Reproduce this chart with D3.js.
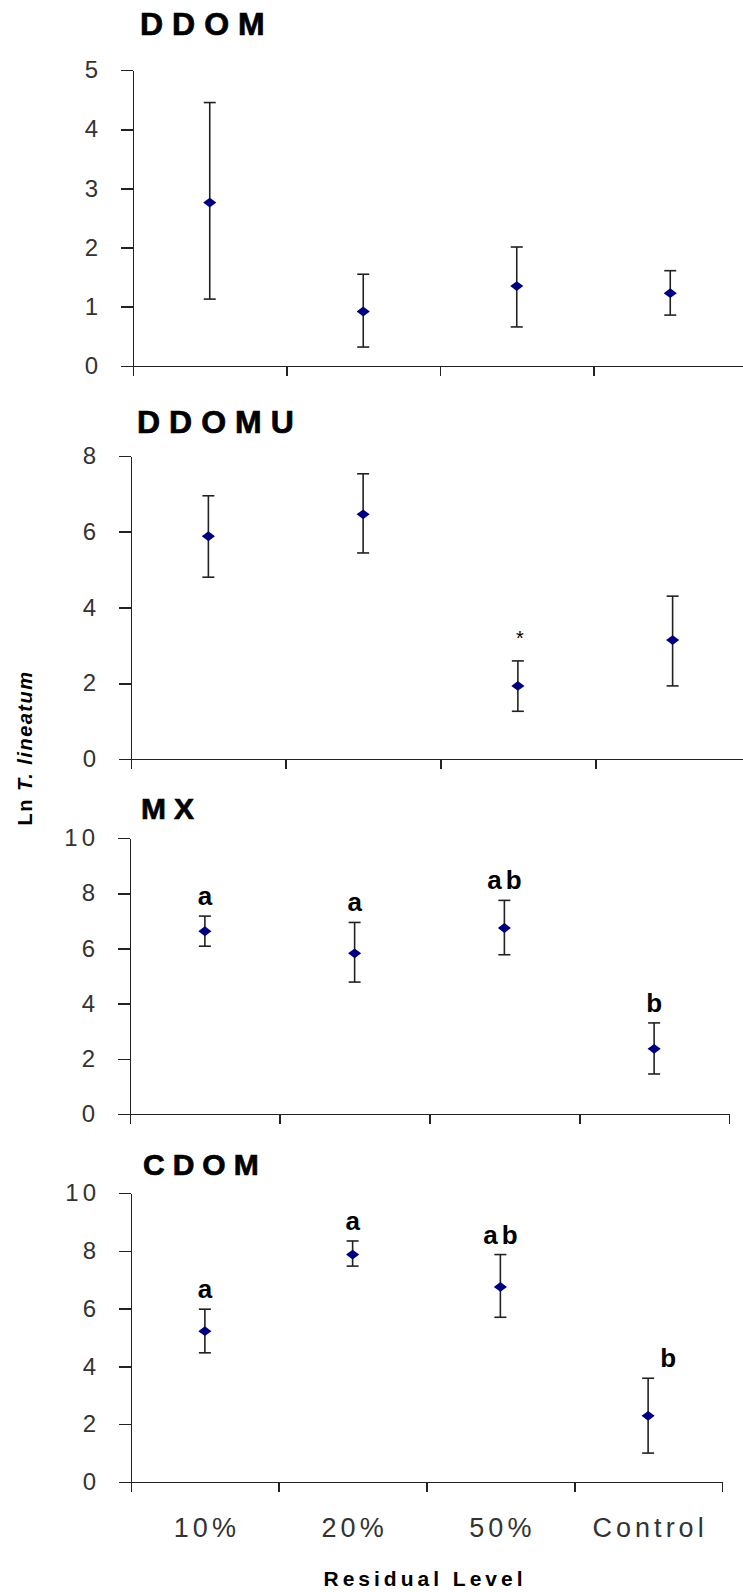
<!DOCTYPE html>
<html>
<head>
<meta charset="utf-8">
<script src="https://cdn.jsdelivr.net/npm/d3@7"></script>
<style>
  body { margin: 0; background: #fff; }
  svg { display: block; background: #fff; }
  .axis path, .axis line { stroke: #222; stroke-width: 1.6; shape-rendering: crispEdges; }
  .axis text { font-family: "Liberation Sans", Arial, sans-serif; font-size: 24px; fill: #333; letter-spacing: 4px; }
  .ptitle { font-family: "Liberation Sans", Arial, sans-serif; font-weight: bold; fill: #000; stroke: #000; stroke-width: 0.7px; }
  .letter { font-family: "Liberation Sans", Arial, sans-serif; font-weight: bold; font-size: 26px; letter-spacing: 4px; fill: #000; }
</style>
</head>
<body>
<svg id="chart" width="743" height="1592"></svg>
<script>
// categories on the x axis
var categories = ["10%", "20%", "50%", "Control"];
var panelTitles = ["DDOM", "DDOMU", "MX", "CDOM"];

// DDOM
var ddomMean = [2.76, 0.92, 1.35, 1.23];
var ddomLow  = [1.13, 0.32, 0.66, 0.86];
var ddomHigh = [4.45, 1.55, 2.01, 1.61];
var ddomTicks = [0, 1, 2, 3, 4, 5];

// DDOMU
var ddomuMean = [5.88, 6.46, 1.93, 3.14];
var ddomuLow  = [4.80, 5.44, 1.26, 1.93];
var ddomuHigh = [6.95, 7.53, 2.59, 4.30];
var ddomuMarks = ["", "", "*", ""];
var ddomuTicks = [0, 2, 4, 6, 8];

// MX
var mxMean = [6.62, 5.82, 6.74, 2.36];
var mxLow  = [6.08, 4.78, 5.77, 1.45];
var mxHigh = [7.17, 6.94, 7.74, 3.30];
var mxLetters = ["a", "a", "ab", "b"];
var mxTicks = [0, 2, 4, 6, 8, 10];

// CDOM
var cdomMean = [5.22, 7.87, 6.75, 2.29];
var cdomLow  = [4.47, 7.47, 5.70, 1.00];
var cdomHigh = [5.98, 8.34, 7.87, 3.59];
var cdomLetters = ["a", "a", "ab", "b"];
var cdomTicks = [0, 2, 4, 6, 8, 10];

var svg = d3.select("#chart");

// panel layout (pixels)
var panels = [
  { title: panelTitles[0], mean: ddomMean, low: ddomLow, high: ddomHigh, ticks: ddomTicks, marks: null,
    left: 133, right: 747, top: 70, bottom: 366, tx: 140, ty: 35, tsize: 32, tspace: 9 },
  { title: panelTitles[1], mean: ddomuMean, low: ddomuLow, high: ddomuHigh, ticks: ddomuTicks, marks: ddomuMarks, star: true,
    left: 131, right: 750, top: 456, bottom: 759, tx: 137, ty: 433, tsize: 32, tspace: 9 },
  { title: panelTitles[2], mean: mxMean, low: mxLow, high: mxHigh, ticks: mxTicks, marks: mxLetters,
    left: 130, right: 729, top: 838, bottom: 1114, tx: 141, ty: 819, tsize: 30, tspace: 8 },
  { title: panelTitles[3], mean: cdomMean, low: cdomLow, high: cdomHigh, ticks: cdomTicks, marks: cdomLetters, lastShift: 20,
    left: 131, right: 722, top: 1193, bottom: 1482, tx: 143, ty: 1175, tsize: 30, tspace: 8, showCats: true }
];

panels.forEach(function(p) {
  var g = svg.append("g");

  var y = d3.scaleLinear()
    .domain([0, d3.max(p.ticks)])
    .range([p.bottom, p.top]);

  // point positions (band centres) and band edges for the ticks
  var x = d3.scalePoint()
    .domain(categories)
    .range([p.left, p.right])
    .padding(0.5);
  var xEdge = d3.scaleLinear()
    .domain([0, categories.length])
    .range([p.left, p.right]);

  g.append("g")
    .attr("class", "axis")
    .attr("transform", `translate(0, ${p.bottom})`)
    .call(d3.axisBottom(xEdge).tickValues(d3.range(categories.length + 1)).tickFormat("").tickSize(10).tickSizeOuter(0));

  g.append("g")
    .attr("class", "axis")
    .attr("transform", `translate(${p.left}, 0)`)
    .call(d3.axisLeft(y).tickValues(p.ticks).tickFormat(d3.format("d")).tickSize(12).tickSizeOuter(0).tickPadding(19));

  g.append("text")
    .attr("class", "ptitle")
    .attr("x", p.tx)
    .attr("y", p.ty)
    .style("font-size", p.tsize + "px")
    .style("letter-spacing", p.tspace + "px")
    .text(p.title);

  var rows = categories.map(function(c, i) {
    return { cat: c, mean: p.mean[i], low: p.low[i], high: p.high[i], mark: p.marks ? p.marks[i] : "", i: i };
  });

  // error bars
  var eb = g.selectAll(".eb").data(rows).enter().append("g").attr("class", "eb");
  eb.append("line")
    .attr("x1", d => x(d.cat)).attr("x2", d => x(d.cat))
    .attr("y1", d => y(d.low)).attr("y2", d => y(d.high))
    .attr("stroke", "#222").attr("stroke-width", 1.6);
  eb.append("line")
    .attr("x1", d => x(d.cat) - 6).attr("x2", d => x(d.cat) + 6)
    .attr("y1", d => y(d.high)).attr("y2", d => y(d.high))
    .attr("stroke", "#222").attr("stroke-width", 1.6);
  eb.append("line")
    .attr("x1", d => x(d.cat) - 6).attr("x2", d => x(d.cat) + 6)
    .attr("y1", d => y(d.low)).attr("y2", d => y(d.low))
    .attr("stroke", "#222").attr("stroke-width", 1.6);

  // diamond markers
  g.selectAll(".pt").data(rows).enter().append("path")
    .attr("class", "pt")
    .attr("d", d3.symbol(d3.symbolSquare).size(60))
    .attr("transform", d => `translate(${x(d.cat)}, ${y(d.mean)}) scale(1.2, 0.9) rotate(45)`)
    .attr("fill", "#00007f");

  // significance letters / star
  if (p.marks) {
    g.selectAll(".letter").data(rows.filter(d => d.mark)).enter().append("text")
      .attr("class", "letter")
      .attr("text-anchor", "middle")
      .attr("x", d => x(d.cat) + 2 + (p.lastShift && d.i === categories.length - 1 ? p.lastShift : 0))
      .attr("y", d => y(d.high) - (p.star ? 16 : 11))
      .style("font-size", p.star ? "20px" : null)
      .style("font-weight", p.star ? "normal" : null)
      .style("letter-spacing", p.star ? "0px" : null)
      .text(d => d.mark);
  }

  if (p.showCats) {
    g.selectAll(".cat").data(categories).enter().append("text")
      .attr("class", "cat")
      .attr("text-anchor", "middle")
      .attr("x", d => x(d) + 2)
      .attr("y", 1537)
      .style("font-family", "'Liberation Sans', Arial, sans-serif")
      .style("font-size", "27px")
      .style("letter-spacing", "4px")
      .attr("fill", "#333")
      .text(d => d);
  }
});

// y axis title
var yTitle = svg.append("text")
  .attr("transform", "translate(32, 748) rotate(-90)")
  .attr("text-anchor", "middle")
  .style("font-family", "'Liberation Sans', Arial, sans-serif")
  .style("font-size", "20px")
  .style("font-weight", "bold")
  .style("letter-spacing", "1.5px");
yTitle.append("tspan").text("Ln ");
yTitle.append("tspan").style("font-style", "italic").text("T. lineatum");

// x axis title
svg.append("text")
  .attr("x", 425)
  .attr("y", 1586)
  .attr("text-anchor", "middle")
  .style("font-family", "'Liberation Sans', Arial, sans-serif")
  .style("font-size", "21px")
  .style("font-weight", "bold")
  .style("letter-spacing", "4px")
  .text("Residual Level");
</script>
</body>
</html>
